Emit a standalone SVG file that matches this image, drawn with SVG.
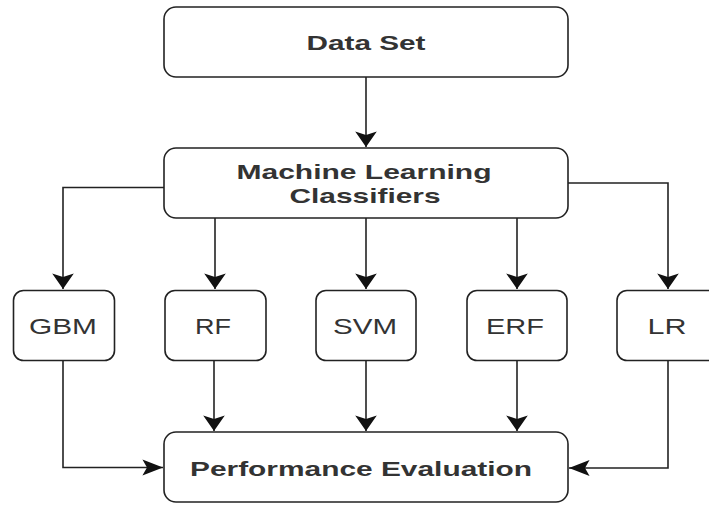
<svg xmlns="http://www.w3.org/2000/svg" width="709" height="505" viewBox="0 0 709 505">
<style>
.box{fill:#fff;stroke:#222;stroke-width:1.6}
.t{font-family:"Liberation Sans",Arial,sans-serif;fill:#333;text-anchor:middle}
.b{font-weight:bold;font-size:21px}
.r{font-size:22px}
.c{fill:none;stroke:#222;stroke-width:1.6}
</style>
<defs>
<marker id="av" markerUnits="userSpaceOnUse" markerWidth="20" markerHeight="24" viewBox="-14 -10 16 20" refX="0" refY="0" orient="auto">
<path d="M-13,-9 L0,0 L-13,9 L-10,0 Z" fill="#111"/>
</marker>
<marker id="ah" markerUnits="userSpaceOnUse" markerWidth="24" markerHeight="20" viewBox="-19 -8 21 16" refX="0" refY="0" orient="auto">
<path d="M-18,-7 L0,0 L-18,7 L-14,0 Z" fill="#111"/>
</marker>
</defs>
<g id="connectors">
<path class="c" d="M366,77 V147" marker-end="url(#av)"/>
<path class="c" d="M164,187.5 H63 V289" marker-end="url(#av)"/>
<path class="c" d="M568,183 H668 V289" marker-end="url(#av)"/>
<path class="c" d="M215,218 V289" marker-end="url(#av)"/>
<path class="c" d="M366,218 V289" marker-end="url(#av)"/>
<path class="c" d="M517,218 V289" marker-end="url(#av)"/>
<path class="c" d="M214,361 V431" marker-end="url(#av)"/>
<path class="c" d="M366,361 V431" marker-end="url(#av)"/>
<path class="c" d="M517,361 V431" marker-end="url(#av)"/>
<path class="c" d="M63,361 V467.5 H163" marker-end="url(#ah)"/>
<path class="c" d="M668,361 V468 H569" marker-end="url(#ah)"/>
</g>
<g id="dataset">
<rect class="box" x="164" y="7" width="404" height="70" rx="12"/>
<text class="t b" x="366" y="50" textLength="119" lengthAdjust="spacingAndGlyphs">Data Set</text>
</g>
<g id="ml">
<rect class="box" x="164" y="148" width="404" height="70" rx="12"/>
<text class="t b" x="364" y="179" textLength="255" lengthAdjust="spacingAndGlyphs">Machine Learning</text>
<text class="t b" x="365" y="203" textLength="151" lengthAdjust="spacingAndGlyphs">Classifiers</text>
</g>
<g id="gbm">
<rect class="box" x="13.5" y="290.5" width="101" height="70" rx="10"/>
<text class="t r" x="63" y="334" textLength="68" lengthAdjust="spacingAndGlyphs">GBM</text>
</g>
<g id="rf">
<rect class="box" x="165" y="290.5" width="101" height="70" rx="10"/>
<text class="t r" x="213" y="334" textLength="36" lengthAdjust="spacingAndGlyphs">RF</text>
</g>
<g id="svm">
<rect class="box" x="316" y="290.5" width="100" height="70" rx="10"/>
<text class="t r" x="365" y="334" textLength="64" lengthAdjust="spacingAndGlyphs">SVM</text>
</g>
<g id="erf">
<rect class="box" x="467" y="290.5" width="100" height="70" rx="10"/>
<text class="t r" x="515" y="334" textLength="58" lengthAdjust="spacingAndGlyphs">ERF</text>
</g>
<g id="lr">
<rect class="box" x="617" y="290.5" width="101" height="70" rx="10"/>
<text class="t r" x="667" y="334" textLength="39" lengthAdjust="spacingAndGlyphs">LR</text>
</g>
<g id="perf">
<rect class="box" x="164" y="432" width="404" height="70" rx="12"/>
<text class="t b" x="361" y="476" textLength="342" lengthAdjust="spacingAndGlyphs">Performance Evaluation</text>
</g>
</svg>
